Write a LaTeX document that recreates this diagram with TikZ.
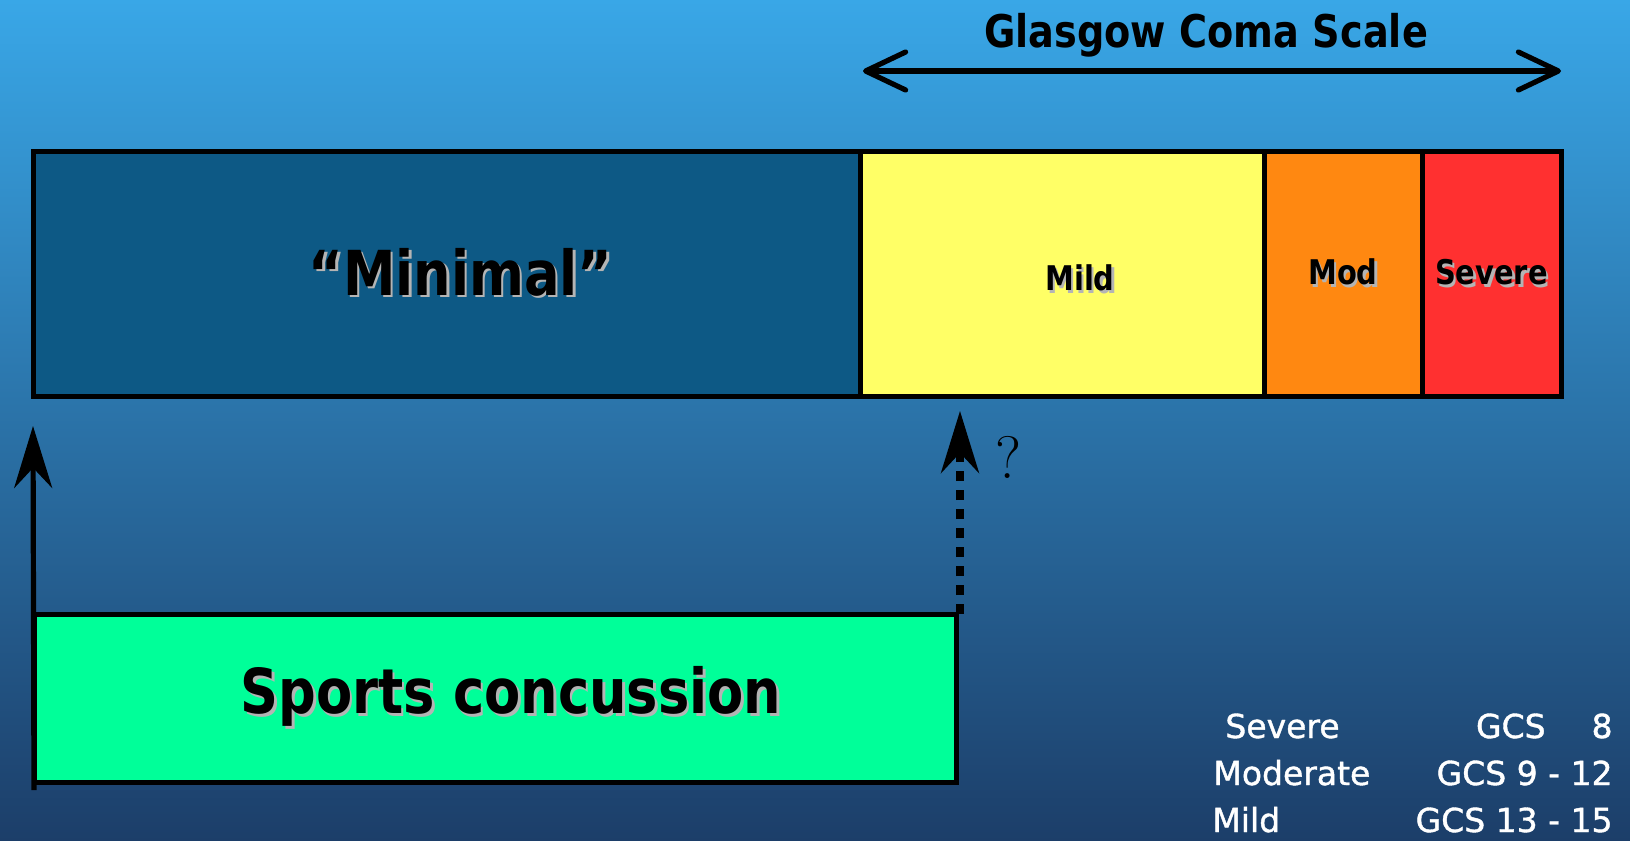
\documentclass[tikz,border=0pt]{standalone}
\usepackage{fontspec}
\usepackage{xcolor}
\usetikzlibrary{arrows.meta,positioning}
\newfontfamily\narrowsans{DejaVu Sans}[FakeStretch=0.85]
\newfontfamily\legendsans{DejaVu Sans}[FakeBold=1.2]
\definecolor{skytop}{HTML}{39A7E7}
\definecolor{skymid}{HTML}{2C80B9}
\definecolor{skybot}{HTML}{1C3E69}
\definecolor{minimalblue}{HTML}{0D5985}
\definecolor{mildyellow}{HTML}{FFFF66}
\definecolor{modorange}{HTML}{FF8811}
\definecolor{severered}{HTML}{FF3030}
\definecolor{sportgreen}{HTML}{00FF99}
\definecolor{shadowgray}{HTML}{B4B4B4}
\newcommand{\shadowed}[1]{\makebox[0pt][l]{\hspace{1.3pt}\raisebox{-1.3pt}{\textcolor{shadowgray}{#1}}}#1}

\begin{document}
\begin{tikzpicture}[x=0.5pt,y=-0.5pt,
  band/.style={draw=black,line width=2.5pt,outer sep=0pt,inner sep=0pt,
               minimum height=122.5pt,anchor=north west},
  big/.style={font=\narrowsans\bfseries\fontsize{31}{37}\selectfont},
  small/.style={font=\narrowsans\bfseries\fontsize{17}{20}\selectfont},
  legend/.style={font=\legendsans\fontsize{16.5}{20}\selectfont,text=white,inner sep=0pt},
  span/.style={{Straight Barb[length=20pt,width=19pt,round]}-{Straight Barb[length=20pt,width=19pt,round]},
               line width=2.6pt},
  up/.style={-{Stealth[length=31pt,width=19pt]},line width=2.6pt},
  dotarr/.style={up,line width=3.6pt,dash pattern=on 5pt off 4.5pt}
]
\useasboundingbox (0,0) rectangle (1630,841);
\shade[top color=skytop,middle color=skymid,bottom color=skybot] (0,0) rectangle (1630,841);

\node[band,fill=minimalblue,minimum width=413.5pt,big] (minimal) at (33,151) {\hspace*{14pt}\shadowed{“Minimal”}};
\node[band,fill=mildyellow,minimum width=202pt,small,right=0pt of minimal] (mild)
  {\hspace*{18pt}\raisebox{-8.5pt}[0pt][0pt]{\shadowed{Mild}}};
\node[band,fill=modorange,minimum width=79pt,small,right=0pt of mild] (mod) {\shadowed{Mod}};
\node[band,fill=severered,minimum width=69.5pt,small,right=0pt of mod] (severe) {\shadowed{Severe}};

\node[font=\narrowsans\bfseries\fontsize{22.5}{26}\selectfont] (gcs) at (1206,35) {Glasgow Coma Scale};
\draw[span] ([xshift=1.5pt,yshift=40pt]mild.north west) -- ([yshift=40pt]severe.north east);

\node[band,fill=sportgreen,minimum width=461pt,minimum height=84pt,big] (sports) at (34,614)
  {\hspace*{16pt}\shadowed{Sports concussion}};

\draw[up] ([yshift=-4pt]sports.south west) -- ([yshift=-15pt]minimal.south west);
\draw[dotarr] ([xshift=2pt]sports.north east) -- ++(0,-203);
\node[font=\fontsize{30}{36}\selectfont] (query) at (1008,457) {?};

\node[legend,anchor=base west] (sevlbl) at (1225,738) {Severe};
\node[legend,anchor=base east] (sevgcs) at (1613,738) {GCS\hspace{23pt}8};
\node[legend,anchor=base west] (modlbl) at (1213,785) {Moderate};
\node[legend,anchor=base east] (modgcs) at (1613,785) {GCS 9 - 12};
\node[legend,anchor=base west] (mildlbl) at (1212,832) {Mild};
\node[legend,anchor=base east] (mildgcs) at (1613,832) {GCS 13 - 15};
\end{tikzpicture}
\end{document}
